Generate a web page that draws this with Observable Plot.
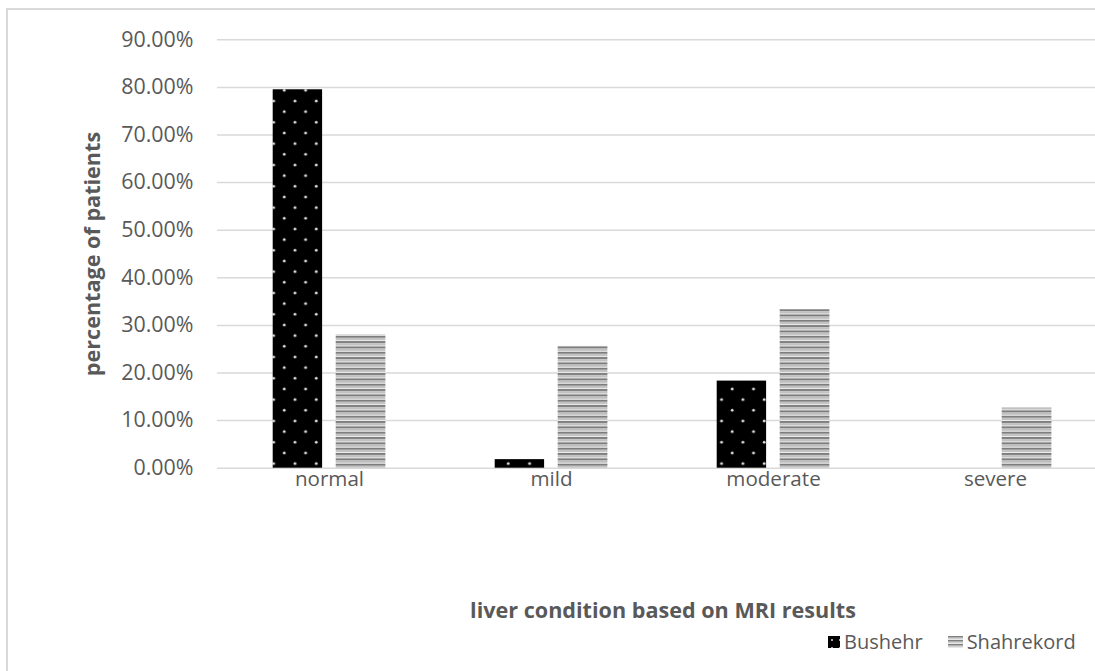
<!DOCTYPE html>
<html><head><meta charset="utf-8">
<script src="https://cdn.jsdelivr.net/npm/d3@7"></script>
<script src="https://cdn.jsdelivr.net/npm/@observablehq/plot@0.6"></script>
<style>
html,body{margin:0;padding:0;background:#fff;}
body{width:1095px;height:671px;overflow:hidden;position:relative;font-family:"Open Sans",sans-serif;color:#595959;}
#frame{position:absolute;left:6px;top:8px;width:1300px;height:900px;border:2px solid #d9d9d9;box-sizing:border-box;}
#chart{position:absolute;left:0;top:0;}
.ytitle{position:absolute;left:91px;top:254px;transform:translate(-50%,-50%) rotate(-90deg);font-weight:700;font-size:21.6px;white-space:nowrap;}
.xtitle{position:absolute;left:663px;top:609px;transform:translate(-50%,-50%);font-weight:700;font-size:21.6px;white-space:nowrap;}
.legend{position:absolute;left:828px;top:628px;font-size:20px;display:flex;align-items:center;white-space:nowrap;}
.legend .item{display:flex;align-items:center;}
.legend svg{margin-right:4px;}
</style>
</head><body>
<div id="frame"></div>
<div id="chart"></div>
<div class="ytitle">percentage of patients</div>
<div class="xtitle">liver condition based on MRI results</div>
<div class="legend">
  <span class="item"><svg width="12" height="12"><defs><pattern id="lgDots" patternUnits="userSpaceOnUse" width="8" height="8"><rect width="8" height="8" fill="#000"/><circle cx="4" cy="4" r="1" fill="#ddd"/></pattern></defs><rect width="12" height="12" fill="url(#lgDots)"/></svg>Bushehr</span>
  <span class="item" style="margin-left:25px"><svg width="15" height="12"><defs><pattern id="lgStripes" patternUnits="userSpaceOnUse" width="15" height="4"><rect width="15" height="4" fill="#fff"/><rect y="0" width="15" height="1.6" fill="#808080"/><rect y="2.2" width="15" height="1.2" fill="#c4c4c4"/></pattern></defs><rect width="15" height="12" fill="url(#lgStripes)"/></svg>Shahrekord</span>
</div>
<script>
const categories = ["normal", "mild", "moderate", "severe"];
const seriesNames = ["Bushehr", "Shahrekord"];
const bushehrValues = [0.795, 0.018, 0.183, 0];
const shahrekordValues = [0.28, 0.256, 0.333, 0.127];
const yTicks = [0, 0.1, 0.2, 0.3, 0.4, 0.5, 0.6, 0.7, 0.8, 0.9];

const rows = [];
categories.forEach((c, i) => {
  rows.push({category: c, series: seriesNames[0], value: bushehrValues[i]});
  rows.push({category: c, series: seriesNames[1], value: shahrekordValues[i]});
});

const textColor = "#595959";
const gridColor = "#d9d9d9";

const chart = Plot.plot({
  width: 1095,
  height: 671,
  marginLeft: 217,
  marginTop: 40,
  marginRight: 0,
  marginBottom: 204,
  style: {fontFamily: "'Open Sans', sans-serif", fontSize: "20px", color: textColor, background: "transparent", overflow: "visible"},
  x: {domain: categories, range: [217.6, 1106.8], padding: 0, label: null},
  y: {domain: [0, 0.9], range: [467.7, 39.3], label: null},
  marks: [
    Plot.ruleY(yTicks, {stroke: gridColor, strokeWidth: 1.5}),
    Plot.barY(rows.filter(d => d.series === "Bushehr"), {x: "category", y: "value", fill: "url(#dots)", insetLeft: 54.7, insetRight: 117.9}),
    Plot.barY(rows.filter(d => d.series === "Shahrekord"), {x: "category", y: "value", fill: "url(#stripes)", insetLeft: 117.7, insetRight: 54.6}),
    Plot.axisY(yTicks, {tickSize: 0, tickPadding: 24, tickFormat: d3.format(".2%"), fill: textColor, fontSize: 21.4, label: null}),
    Plot.axisX({tickSize: 0, tickPadding: 4, fill: textColor, fontSize: 20.6, label: null})
  ]
});

const svg = d3.select(chart);
const defs = svg.insert("defs", ":first-child");
const p1 = defs.append("pattern").attr("id", "dots").attr("patternUnits", "userSpaceOnUse")
  .attr("width", 21.33).attr("height", 21.33).attr("x", 2).attr("y", 1);
p1.append("rect").attr("width", 21.33).attr("height", 21.33).attr("fill", "#000");
p1.append("circle").attr("cx", 5).attr("cy", 4).attr("r", 1.4).attr("fill", "#e0e0e0");
p1.append("circle").attr("cx", 15.67).attr("cy", 14.67).attr("r", 1.4).attr("fill", "#e0e0e0");
const p2 = defs.append("pattern").attr("id", "stripes").attr("patternUnits", "userSpaceOnUse")
  .attr("width", 50).attr("height", 5.33);
p2.append("rect").attr("width", 50).attr("height", 5.33).attr("fill", "#f0f0f0");
p2.append("rect").attr("y", 0).attr("width", 50).attr("height", 2.1).attr("fill", "#7d7d7d");
p2.append("rect").attr("y", 2.7).attr("width", 50).attr("height", 1.6).attr("fill", "#bdbdbd");

document.getElementById("chart").appendChild(chart);
</script>
</body></html>
